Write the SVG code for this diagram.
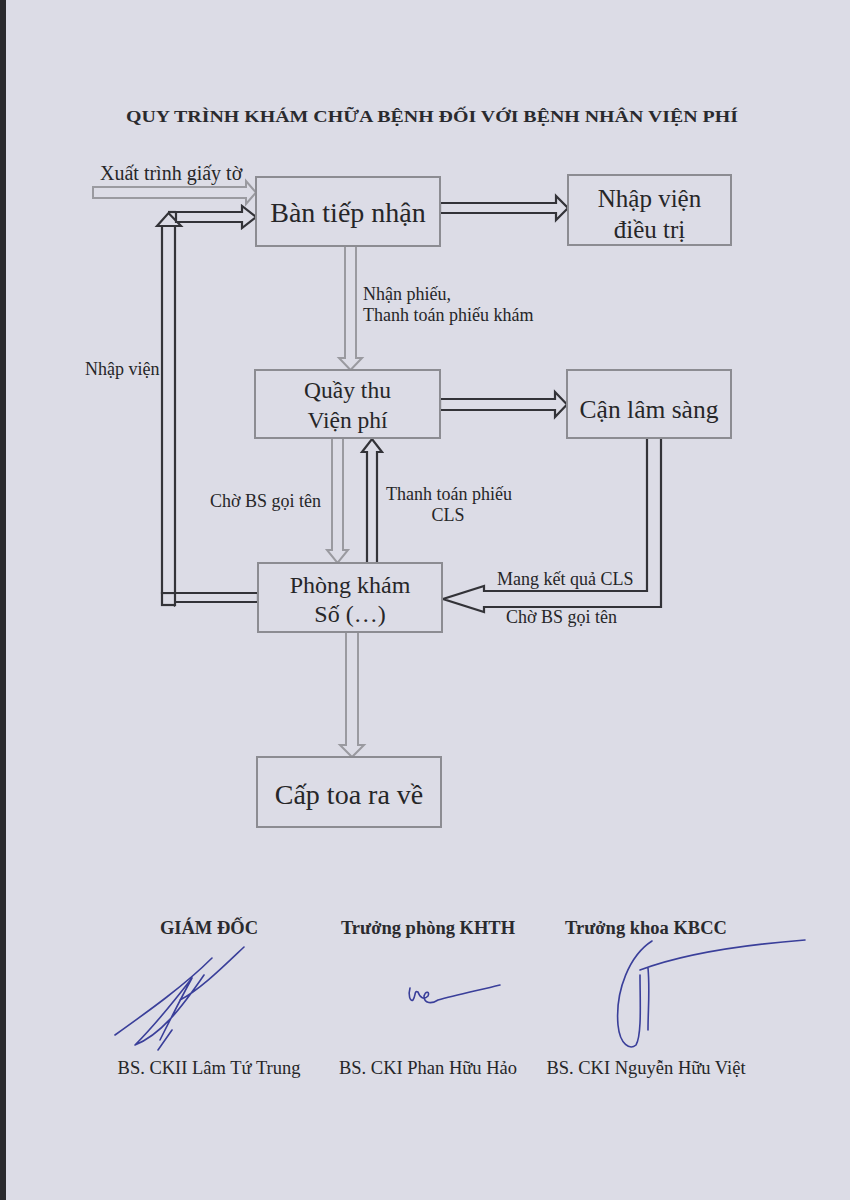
<svg xmlns="http://www.w3.org/2000/svg" width="850" height="1200" viewBox="0 0 850 1200">
<style>
  .box{fill:#dcdce6;stroke:#8c8c92;stroke-width:2}
  .t{font-family:"Liberation Serif","Times New Roman",serif;fill:#262628}
  .big{font-size:28px}
  .mid{font-size:24px}
  .lbl{font-size:18px}
  .light{fill:#dcdce6;stroke:#9a9aa0;stroke-width:2;stroke-linejoin:miter}
  .dark{fill:#dcdce6;stroke:#333338;stroke-width:2.2;stroke-linejoin:miter}
  .hd{font-family:"Liberation Serif","Times New Roman",serif;font-weight:bold;fill:#2a2a2e}
  .sig{fill:none;stroke:#3a3f9a;stroke-width:1.6;stroke-linecap:round;stroke-linejoin:round}
</style>
<rect x="0" y="0" width="850" height="1200" fill="#dcdce6"/>
<rect x="0" y="0" width="6" height="1200" fill="#2a2a2e"/>

<text class="hd" x="432" y="122" font-size="17.5" text-anchor="middle" textLength="612" lengthAdjust="spacingAndGlyphs">QUY TRÌNH KHÁM CHỮA BỆNH ĐỐI VỚI BỆNH NHÂN VIỆN PHÍ</text>

<g id="connectors">
  <polygon class="light" points="93,187 246,187 246,181 256,192.5 246,204 246,198 93,198"/>
  <polygon class="dark" points="440,203 556,203 556,196 568,208 556,220 556,213 440,213"/>
  <polygon class="light" points="345,246 356,246 356,358 362,358 350.5,370 339,358 345,358"/>
  <polygon class="dark" points="440,399 555,399 555,392 567,404.5 555,417 555,410 440,410"/>
  <polygon class="light" points="332,438 343,438 343,550 348,550 337.5,563 327,550 332,550"/>
  <polygon class="dark" points="367,563 377,563 377,452 382,452 372,439 362,452 367,452"/>
  <polygon class="dark" points="647,438 661,438 661,607 484,607 484,612 443,599 484,586 484,591 647,591"/>
  <polygon class="light" points="346,632 358,632 358,745 364,745 352,757 340,745 346,745"/>
  <polygon class="dark" points="258,593 174,593 174,590 164,597.5 174,605 174,602 258,602"/>
  <rect class="dark" x="162" y="593" width="13" height="12" fill="none"/>
  <polygon class="dark" points="162,593 162,226 175,226 175,593"/>
  <polygon class="dark" points="157,226 168.5,213 181,226"/>
  <polygon class="dark" points="176,212 242,212 242,206 256,217 242,228 242,222 176,222"/>
  <line x1="176" y1="212" x2="168" y2="212" stroke="#333338" stroke-width="2.2"/>
</g>

<g id="lbl-xuat"><text class="t" x="100" y="180" font-size="20">Xuất trình giấy tờ</text></g>
<g id="lbl-nhanphieu">
  <text class="t lbl" x="363" y="300">Nhận phiếu,</text>
  <text class="t lbl" x="363" y="321">Thanh toán phiếu khám</text>
</g>
<g id="lbl-nhapvien"><text class="t lbl" x="85" y="375">Nhập viện</text></g>
<g id="lbl-chobs1"><text class="t lbl" x="210" y="507">Chờ BS gọi tên</text></g>
<g id="lbl-thanhtoan">
  <text class="t lbl" x="386" y="500">Thanh toán phiếu</text>
  <text class="t lbl" x="448" y="521" text-anchor="middle">CLS</text>
</g>
<g id="lbl-mang"><text class="t lbl" x="497" y="585">Mang kết quả CLS</text></g>
<g id="lbl-chobs2"><text class="t lbl" x="506" y="623">Chờ BS gọi tên</text></g>

<g id="ban-tiep-nhan">
  <rect class="box" x="256" y="177" width="184" height="69"/>
  <text class="t big" x="348" y="222" text-anchor="middle">Bàn tiếp nhận</text>
</g>
<g id="nhap-vien-dieu-tri">
  <rect class="box" x="568" y="175" width="163" height="70"/>
  <text class="t" font-size="25" x="649.5" y="207" text-anchor="middle">Nhập viện</text>
  <text class="t" font-size="25" x="649.5" y="238" text-anchor="middle">điều trị</text>
</g>
<g id="quay-thu">
  <rect class="box" x="255" y="370" width="185" height="68"/>
  <text class="t" font-size="23.5" x="347.5" y="398" text-anchor="middle">Quầy thu</text>
  <text class="t" font-size="23.5" x="347.5" y="428" text-anchor="middle">Viện phí</text>
</g>
<g id="can-lam-sang">
  <rect class="box" x="567" y="370" width="164" height="68"/>
  <text class="t" font-size="25.5" x="649" y="418" text-anchor="middle">Cận lâm sàng</text>
</g>
<g id="phong-kham">
  <rect class="box" x="258" y="563" width="184" height="69"/>
  <text class="t mid" x="350" y="593" text-anchor="middle">Phòng khám</text>
  <text class="t mid" x="350" y="622" text-anchor="middle">Số (…)</text>
</g>
<g id="cap-toa">
  <rect class="box" x="257" y="757" width="184" height="70"/>
  <text class="t big" x="349" y="804" text-anchor="middle">Cấp toa ra về</text>
</g>

<g id="signatures">
  <text class="hd" x="209" y="934" font-size="18.5" text-anchor="middle">GIÁM ĐỐC</text>
  <text class="hd" x="428" y="934" font-size="18.5" text-anchor="middle">Trưởng phòng KHTH</text>
  <text class="hd" x="646" y="934" font-size="18.5" text-anchor="middle">Trưởng khoa KBCC</text>
  <text class="t" x="209" y="1074" font-size="18.5" text-anchor="middle">BS. CKII Lâm Tứ Trung</text>
  <text class="t" x="428" y="1074" font-size="18.5" text-anchor="middle">BS. CKI Phan Hữu Hảo</text>
  <text class="t" x="646" y="1074" font-size="18.5" text-anchor="middle">BS. CKI Nguyễn Hữu Việt</text>
  <path class="sig" d="M244,947 C225,965 200,990 180,1000 M212,958 C185,985 150,1010 115,1035 M204,975 C180,1010 160,1035 135,1045 C150,1030 175,1000 192,978 C180,1000 170,1020 160,1040 M172,1030 L158,1050"/>
  <path class="sig" d="M410,988 C408,995 410,1002 413,1000 C416,996 414,990 418,992 C420,998 424,1000 428,996 C430,992 426,990 424,996 C424,1004 432,1004 438,1000 C455,995 480,990 500,985"/>
  <path class="sig" d="M652,941 C630,955 615,990 618,1025 C620,1045 630,1050 636,1045 C642,1035 640,1000 640,975 M648,968 C650,990 648,1010 648,1030 M640,970 C680,955 740,945 805,940"/>
</g>
</svg>
